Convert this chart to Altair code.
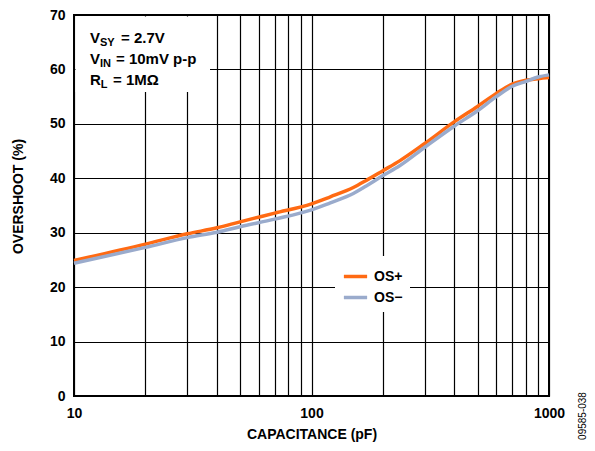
import altair as alt
import pandas as pd

# ---- data ----
capacitance = [10, 20, 30, 40, 50, 70, 100, 120, 150, 170, 200, 235, 300, 400, 500, 600, 700, 800, 900, 1000]
os_plus = [24.9, 27.9, 29.8, 30.9, 32.0, 33.6, 35.3, 36.6, 38.3, 39.6, 41.4, 43.2, 46.4, 50.4, 53.2, 55.6, 57.3, 58.0, 58.3, 58.5]
os_minus = [24.4, 27.3, 29.1, 30.1, 31.1, 32.5, 34.2, 35.5, 37.2, 38.6, 40.5, 42.3, 45.7, 49.6, 52.4, 55.0, 56.9, 57.8, 58.6, 59.0]
series_names = ["OS+", "OS\u2212"]
series_colors = ["#FF6A13", "#9AABCC"]
x_ticks = [10, 20, 30, 40, 50, 60, 70, 80, 90, 100, 200, 300, 400, 500, 600, 700, 800, 900, 1000]
y_ticks = [0, 10, 20, 30, 40, 50, 60, 70]

rows = []
for c, p in zip(capacitance, os_plus):
    rows.append({"cap": c, "os": p, "series": series_names[0]})
for c, m in zip(capacitance, os_minus):
    rows.append({"cap": c, "os": m, "series": series_names[1]})
df = pd.DataFrame(rows)

FONT = "Arial, Liberation Sans, Helvetica, sans-serif"
W, H = 475, 381

lines = alt.Chart(df).mark_line(strokeWidth=3.5, interpolate="monotone").encode(
    x=alt.X("cap:Q",
            scale=alt.Scale(type="log", domain=[10, 1000], nice=False),
            axis=alt.Axis(values=x_ticks, grid=True, gridColor="black", gridWidth=1.2,
                          gridOpacity=1, ticks=False, domain=False, format="d",
                          labelExpr="(datum.value == 10 || datum.value == 100 || datum.value == 1000) ? datum.label : ''",
                          labelFont=FONT, labelFontSize=14, labelFontWeight="bold", labelColor="black",
                          labelPadding=10, labelFlush=False,
                          title="CAPACITANCE (pF)", titleFont=FONT, titleFontSize=14,
                          titleFontWeight="bold", titleColor="black",
                          titleX=W / 2, titleY=38, titleBaseline="middle", titleAlign="center")),
    y=alt.Y("os:Q",
            scale=alt.Scale(domain=[0, 70], nice=False),
            axis=alt.Axis(values=y_ticks, grid=True, gridColor="black", gridWidth=1.2,
                          gridOpacity=1, ticks=False, domain=False,
                          labelFont=FONT, labelFontSize=14, labelFontWeight="bold", labelColor="black",
                          labelPadding=9,
                          title="OVERSHOOT (%)", titleFont=FONT, titleFontSize=14,
                          titleFontWeight="bold", titleColor="black",
                          titleX=-56, titleY=181, titleAngle=-90, titleBaseline="middle",
                          titleAlign="center")),
    color=alt.Color("series:N",
                    scale=alt.Scale(domain=series_names, range=series_colors),
                    legend=alt.Legend(orient="none", legendX=261, legendY=241, title=None,
                                      fillColor="white", padding=7, symbolType="stroke",
                                      symbolStrokeWidth=3.5, symbolSize=540, labelOffset=5,
                                      rowPadding=0,
                                      labelFont=FONT, labelFontSize=14, labelFontWeight="bold",
                                      labelColor="black")),
    order=alt.Order("series:N"),
)

one = alt.Data(values=[{}])

box = alt.Chart(one).mark_rect(fill="white").encode(
    x=alt.value(1.5), x2=alt.value(136), y=alt.value(1.5), y2=alt.value(77))


def txt(s, x, y, size=15, weight="bold", angle=0, align="left", baseline="alphabetic"):
    return alt.Chart(one).mark_text(text=s, font=FONT, fontSize=size, fontWeight=weight,
                                    color="black", align=align, baseline=baseline,
                                    angle=angle).encode(x=alt.value(x), y=alt.value(y))


annot = [
    txt("V", 16, 27.5), txt("SY", 26, 30.5, size=11), txt("= 2.7V", 47, 27.5),
    txt("V", 16, 49), txt("IN", 26, 52, size=11), txt("= 10mV p-p", 42, 49),
    txt("R", 16, 69.7), txt("L", 26.8, 72.7, size=11), txt("= 1M\u03a9", 39, 69.7),
    txt("09585-038", 508.5, 401, size=10, weight="normal", angle=270, align="center",
        baseline="middle"),
]

chart = alt.layer(lines, box, *annot).properties(
    width=W, height=H,
    padding={"left": 66, "top": 7, "right": 38, "bottom": 47},
    autosize=alt.AutoSizeParams(type="none"),
).configure_view(stroke="black", strokeWidth=2)

chart.save("out.html", embed_options={"renderer": "svg", "actions": False})
